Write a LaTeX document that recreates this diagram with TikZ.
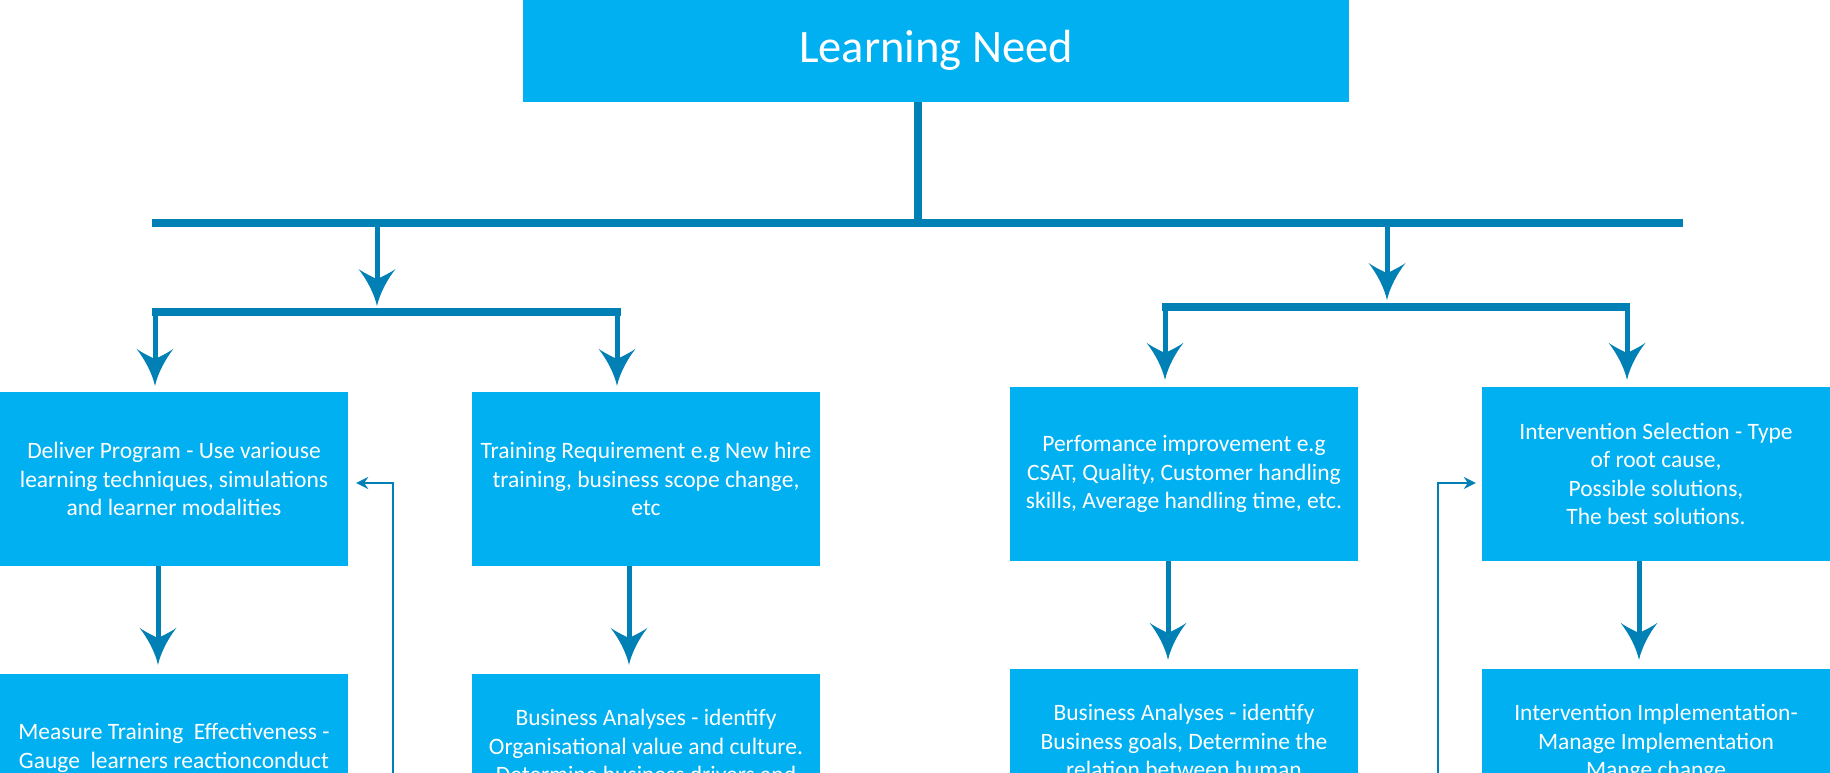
\documentclass[tikz,border=0pt]{standalone}
\usepackage{fontspec}
\setmainfont{Carlito}
\usetikzlibrary{arrows.meta}
\definecolor{boxblue}{HTML}{00B0F0}
\definecolor{linkblue}{HTML}{0080B4}
\pgfdeclarearrow{
  name = Swoop,
  defaults = {length = 37pt, width = 37pt},
  setup code = {
    \pgfarrowssettipend{0pt}
    \pgfarrowssetlineend{-0.6\pgfarrowlength}
    \pgfarrowssetbackend{-\pgfarrowlength}
    \pgfarrowssetvisualbackend{-0.75\pgfarrowlength}
    \pgfarrowshullpoint{0pt}{0pt}
    \pgfarrowsupperhullpoint{-\pgfarrowlength}{.5\pgfarrowwidth}
    \pgfarrowssavethe\pgfarrowlength
    \pgfarrowssavethe\pgfarrowwidth
  },
  drawing code = {
    \pgfpathmoveto{\pgfqpoint{0pt}{0pt}}
    \pgfpathcurveto{\pgfqpoint{-.35\pgfarrowlength}{.08\pgfarrowwidth}}{\pgfqpoint{-.72\pgfarrowlength}{.28\pgfarrowwidth}}{\pgfqpoint{-\pgfarrowlength}{.5\pgfarrowwidth}}
    \pgfpathcurveto{\pgfqpoint{-.86\pgfarrowlength}{.3\pgfarrowwidth}}{\pgfqpoint{-.78\pgfarrowlength}{.1\pgfarrowwidth}}{\pgfqpoint{-.72\pgfarrowlength}{0pt}}
    \pgfpathcurveto{\pgfqpoint{-.78\pgfarrowlength}{-.1\pgfarrowwidth}}{\pgfqpoint{-.86\pgfarrowlength}{-.3\pgfarrowwidth}}{\pgfqpoint{-\pgfarrowlength}{-.5\pgfarrowwidth}}
    \pgfpathcurveto{\pgfqpoint{-.72\pgfarrowlength}{-.28\pgfarrowwidth}}{\pgfqpoint{-.35\pgfarrowlength}{-.08\pgfarrowwidth}}{\pgfqpoint{0pt}{0pt}}
    \pgfpathclose
    \pgfusepathqfill
  },
  parameters = {\the\pgfarrowlength,\the\pgfarrowwidth},
}
\begin{document}
\begin{tikzpicture}[x=1pt,y=-1pt,
  box/.style={rectangle, fill=boxblue, text=white, inner sep=0pt, minimum width=348pt,
    align=center, font=\fontsize{23.5}{28.3}\selectfont},
  thickbar/.style={draw=linkblue, line width=8pt},
  arr/.style={draw=linkblue, fill=linkblue, line width=5pt, -{Swoop[length=37pt,width=37pt]}},
  fb/.style={draw=linkblue, line width=2.5pt, -{Stealth[length=12pt,width=12pt,inset=4pt]}}]
\useasboundingbox (0,0) rectangle (1830,772);
\clip (0,0) rectangle (1830,772);

% nodes
\node[box, minimum width=826pt, minimum height=101.5pt, font=\fontsize{46.5}{55}\selectfont] (top) at (936,50.75) {Learning Need};

\node[box, minimum height=174pt] (b1) at (174,479) {Deliver Program - Use variouse\\learning techniques, simulations\\and learner modalities};
\node[box, minimum height=174pt] (b2) at (646,479) {Training Requirement e.g New hire\\training, business scope change,\\etc};
\node[box, minimum height=148pt] (b3) at (174,748) {Measure Training~ Effectiveness -\\Gauge~ learners reactionconduct};
\node[box, minimum height=144pt] (b4) at (646,746) {Business Analyses - identify\\Organisational value and culture.\\Determine business drivers and};

\node[box, minimum height=174pt] (b5) at (1184,474) {Perfomance improvement e.g\\CSAT, Quality, Customer handling\\skills, Average handling time, etc.};
\node[box, minimum height=174pt] (b6) at (1656,474) {Intervention Selection - Type\\of root cause,\\Possible solutions,\\The best solutions.};
\node[box, minimum height=144pt] (b7) at (1184,741) {Business Analyses - identify\\Business goals, Determine the\\relation between human};
\node[box, minimum height=148pt] (b8) at (1656,743) {Intervention Implementation-\\Manage Implementation\\Mange change};

% coordinates
\coordinate (stemtop) at (918,101.5);
\coordinate (barL) at (152,223);
\coordinate (barR) at (1683,223);
\coordinate (lTop) at (377,227);
\coordinate (lTip) at (377,306);
\coordinate (mlL) at (152,312);
\coordinate (mlR) at (621,312);
\coordinate (la1) at (155,316);
\coordinate (la2) at (617,316);
\coordinate (rTop) at (1387,227);
\coordinate (rTip) at (1387,300);
\coordinate (mrL) at (1162,307);
\coordinate (mrR) at (1630,307);
\coordinate (ra1) at (1165,311);
\coordinate (ra2) at (1627,311);
\coordinate (fl) at (393,800);
\coordinate (fr) at (1438,800);

% trunk and bars
\draw[thickbar] (stemtop) -- (stemtop |- barL);
\draw[thickbar] (barL) -- (barR);
\draw[thickbar] (mlL) -- (mlR);
\draw[thickbar] (mrL) -- (mrR);

% branch arrows
\draw[arr] (lTop) -- (lTip);
\draw[arr] (rTop) -- (rTip);
\draw[arr, shorten >=6pt] (la1) -- (la1 |- b1.north);
\draw[arr, shorten >=6pt] (la2) -- (la2 |- b2.north);
\draw[arr, shorten >=7pt] (ra1) -- (ra1 |- b5.north);
\draw[arr, shorten >=7pt] (ra2) -- (ra2 |- b6.north);

% column arrows
\draw[arr, shorten >=9pt] ([xshift=-16pt]b1.south) -- ([xshift=-16pt]b3.north);
\draw[arr, shorten >=9pt] ([xshift=-17pt]b2.south) -- ([xshift=-17pt]b4.north);
\draw[arr, shorten >=9pt] ([xshift=-16pt]b5.south) -- ([xshift=-16pt]b7.north);
\draw[arr, shorten >=9pt] ([xshift=-17pt]b6.south) -- ([xshift=-17pt]b8.north);

% feedback arrows
\draw[fb, shorten >=8pt] (fl) |- ([yshift=-4pt]b1.east);
\draw[fb, shorten >=6pt] (fr) |- ([yshift=-9pt]b6.west);
\end{tikzpicture}
\end{document}
